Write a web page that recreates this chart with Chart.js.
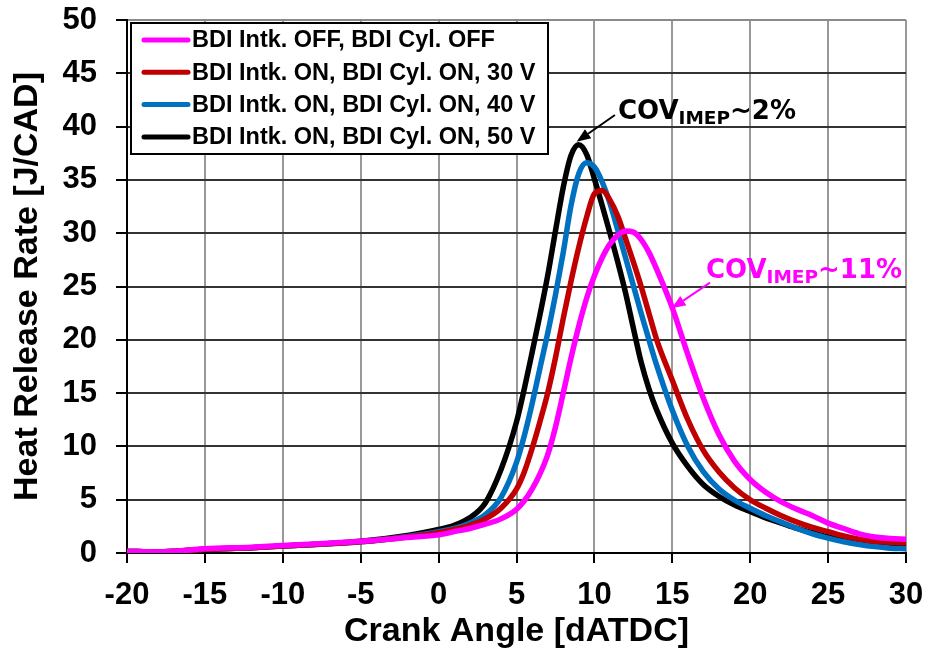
<!DOCTYPE html>
<html><head><meta charset="utf-8">
<script src="https://cdn.jsdelivr.net/npm/chart.js@4.4.1/dist/chart.umd.min.js"></script>
<style>html,body{margin:0;padding:0;background:#fff}#wrap{width:926px;height:654px}</style>
</head><body><div id="wrap"><canvas id="c" width="926" height="654"></canvas></div>
<script>
// ---- data ----
const angles = [-20,-18,-15,-12,-10,-8,-5,-2,0,1,2,3,4,5,5.5,6,6.5,7,7.5,8,8.5,9,9.5,10,10.5,11,11.5,12,12.5,13,13.5,14,15,16,17,18,19,20,21,22,23,24,25,26,27,28,29,30];
const hrrOff = [0.15,0.1,0.4,0.55,0.7,0.85,1.1,1.45,1.7,2.0,2.3,2.7,3.2,4.1,4.9,6.0,7.4,9.2,11.8,15.0,18.3,21.3,23.9,26.0,27.7,29.0,29.8,30.2,30.1,29.4,28.2,26.6,23.0,18.6,14.5,11.1,8.6,6.9,5.7,4.8,4.1,3.5,2.8,2.3,1.8,1.5,1.35,1.3];
const hrr30V = [0.15,0.1,0.35,0.5,0.65,0.8,1.05,1.5,1.9,2.2,2.6,3.2,4.2,6.0,7.6,9.8,12.3,15.0,18.3,22.0,25.5,28.7,31.5,33.7,34.0,33.1,31.6,29.5,27.3,25.0,22.5,20.0,16.2,12.5,9.6,7.6,6.1,5.0,4.2,3.5,2.9,2.4,2.0,1.6,1.3,1.1,1.0,0.95];
const hrr40V = [0.15,0.1,0.35,0.5,0.65,0.8,1.05,1.55,2.0,2.3,2.8,3.6,5.2,8.5,11.0,14.0,17.3,20.6,24.2,28.2,32.6,35.6,36.6,36.2,34.8,32.8,30.3,27.7,25.1,22.5,20.0,17.6,13.4,10.0,7.6,6.0,4.95,4.2,3.5,2.9,2.3,1.8,1.4,1.05,0.8,0.6,0.45,0.4];
const hrr50V = [0.15,0.1,0.35,0.5,0.65,0.8,1.1,1.65,2.2,2.6,3.3,4.7,7.8,12.3,15.4,18.8,22.3,26.0,30.2,34.3,37.3,38.3,37.4,35.1,32.6,30.0,27.3,24.4,21.1,17.9,15.4,13.4,10.3,8.1,6.4,5.3,4.5,3.9,3.3,2.8,2.3,1.9,1.5,1.2,1.0,0.85,0.8,0.75];
const seriesLabels = ['BDI Intk. OFF, BDI Cyl. OFF','BDI Intk. ON, BDI Cyl. ON, 30 V','BDI Intk. ON, BDI Cyl. ON, 40 V','BDI Intk. ON, BDI Cyl. ON, 50 V'];
const seriesValues = [hrrOff, hrr30V, hrr40V, hrr50V];
const seriesColors = ['#FF00FF','#C00000','#0070C0','#000000'];
const xTitle = 'Crank Angle [dATDC]';
const yTitle = 'Heat Release Rate [J/CAD]';
const notes = [
  {main:'COV', sub:'IMEP', tail:'~2%', color:'#000000', tx:11.51, ty:40.7, ax:11.32, ay:41.09, hx:8.86, hy:38.58, lw:2},
  {main:'COV', sub:'IMEP', tail:'~11%', color:'#FF00FF', tx:17.16, ty:25.77, ax:17.42, ay:25.36, hx:14.96, hy:22.95, lw:2}
];

const AX_FONT = '"Liberation Sans", Arial, sans-serif';
const NOTE_FONT = '"DejaVu Sans", Verdana, sans-serif';

const legendPlugin = {
  id: 'boxLegend',
  afterDatasetsDraw(chart) {
    const ctx = chart.ctx, a = chart.chartArea;
    const x0 = a.left + 4, y0 = a.top + 3, w = 417, h = 131;
    ctx.save();
    ctx.fillStyle = '#fff';
    ctx.fillRect(x0, y0, w, h);
    ctx.strokeStyle = '#000'; ctx.lineWidth = 2;
    ctx.strokeRect(x0, y0, w, h);
    ctx.font = 'bold 23.5px ' + AX_FONT;
    ctx.textBaseline = 'middle';
    chart.data.datasets.forEach((ds, i) => {
      const cy = y0 + 17 + i * 32.3;
      ctx.strokeStyle = ds.borderColor; ctx.lineWidth = 5; ctx.lineCap = 'round';
      ctx.beginPath(); ctx.moveTo(x0 + 13, cy); ctx.lineTo(x0 + 57, cy); ctx.stroke();
      ctx.fillStyle = '#000';
      ctx.fillText(ds.label, x0 + 61, cy + 1);
    });
    ctx.restore();
  }
};

const notePlugin = {
  id: 'notes',
  afterDatasetsDraw(chart) {
    const ctx = chart.ctx, xs = chart.scales.x, ys = chart.scales.y;
    ctx.save();
    notes.forEach(n => {
      const sx = xs.getPixelForValue(n.ax), sy = ys.getPixelForValue(n.ay);
      const hx = xs.getPixelForValue(n.hx), hy = ys.getPixelForValue(n.hy);
      const ang = Math.atan2(hy - sy, hx - sx);
      const L = 14, W = 5.5;
      const bx = hx - L * Math.cos(ang), by = hy - L * Math.sin(ang);
      ctx.strokeStyle = n.color; ctx.fillStyle = n.color; ctx.lineWidth = n.lw;
      ctx.beginPath(); ctx.moveTo(sx, sy); ctx.lineTo(bx, by); ctx.stroke();
      ctx.beginPath();
      ctx.moveTo(hx, hy);
      ctx.lineTo(bx + W * Math.sin(ang), by - W * Math.cos(ang));
      ctx.lineTo(bx - W * Math.sin(ang), by + W * Math.cos(ang));
      ctx.closePath(); ctx.fill();
      let tx = xs.getPixelForValue(n.tx), ty = ys.getPixelForValue(n.ty);
      ctx.textBaseline = 'alphabetic'; ctx.textAlign = 'left';
      ctx.font = 'bold 26px ' + NOTE_FONT;
      ctx.fillText(n.main, tx, ty); tx += ctx.measureText(n.main).width;
      ctx.font = 'bold 18.5px ' + NOTE_FONT;
      ctx.fillText(n.sub, tx, ty + 4.5); tx += ctx.measureText(n.sub).width;
      ctx.font = 'bold 26px ' + NOTE_FONT;
      ctx.fillText(n.tail, tx, ty);
    });
    ctx.restore();
  }
};

new Chart(document.getElementById('c'), {
  type: 'line',
  data: {
    datasets: seriesLabels.map((lab, i) => ({
      label: lab,
      data: angles.map((a, k) => ({x: a, y: seriesValues[i][k]})),
      borderColor: seriesColors[i],
      backgroundColor: seriesColors[i],
      borderWidth: 5.5,
      pointRadius: 0,
      fill: false,
      cubicInterpolationMode: 'monotone',
      borderCapStyle: 'round',
      borderJoinStyle: 'round'
    }))
  },
  options: {
    responsive: false,
    devicePixelRatio: 1,
    animation: false,
    layout: {padding: {top: 20, right: 20, left: 0, bottom: 0}},
    plugins: {legend: {display: false}, tooltip: {enabled: false}},
    scales: {
      x: {
        type: 'linear', min: -20, max: 30,
        ticks: {stepSize: 5, color: '#000', font: {family: AX_FONT, size: 31, weight: 'bold'}, padding: 14, maxRotation: 0},
        grid: {color: '#999', lineWidth: 2, tickColor: '#000', tickLength: 10, tickWidth: 2},
        border: {color: '#000', width: 2},
        title: {display: true, text: xTitle, color: '#000', font: {family: AX_FONT, size: 34, weight: 'bold', lineHeight: 1}, padding: {top: 0, bottom: 5}},
        afterFit(s) { s.height = 101; s.paddingLeft = 0; s.paddingRight = 0; }
      },
      y: {
        min: 0, max: 50,
        ticks: {stepSize: 5, color: '#000', font: {family: AX_FONT, size: 31, weight: 'bold'}, padding: 19},
        grid: {color: c => (c.tick && c.tick.value === 50) ? '#8a8a8a' : '#333', lineWidth: 2, tickColor: '#000', tickLength: 11, tickWidth: 2},
        border: {color: '#000', width: 2},
        title: {display: true, text: yTitle, color: '#000', font: {family: AX_FONT, size: 34, weight: 'bold', lineHeight: 1}, padding: {top: 11, bottom: 0}},
        afterFit(s) { s.width = 127; s.paddingTop = 0; s.paddingBottom = 0; }
      }
    }
  },
  plugins: [legendPlugin, notePlugin]
});
</script></body></html>
